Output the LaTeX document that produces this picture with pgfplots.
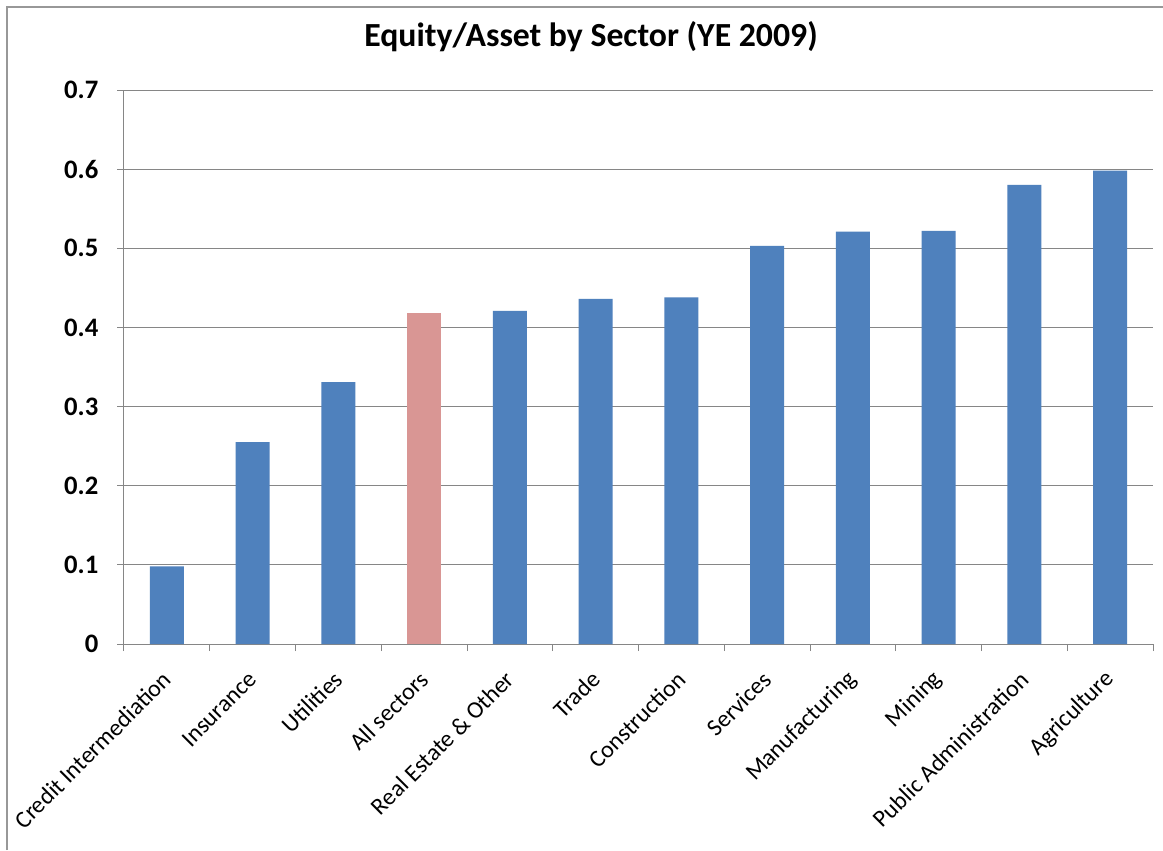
\documentclass[border=0pt]{standalone}
\usepackage{pgfplots}
\pgfplotsset{compat=1.18}
\usepackage{fontspec}
\setmainfont{Carlito}
\definecolor{barblue}{HTML}{4F81BD}
\definecolor{barpink}{HTML}{D99694}
\definecolor{gridgray}{HTML}{868686}

\begin{document}
\begin{tikzpicture}[x=1pt,y=1pt]
\useasboundingbox (-93,-154.5) rectangle (779.25,483);
\fill[white] (-93,-154.5) rectangle (779.25,483);
\draw[gridgray!85, line width=1.5pt] (-87.75,-154.5) -- (-87.75,477.75) -- (779.25,477.75);
\node[font=\fontsize{25.3}{28}\selectfont\bfseries] at (350.25,455.25) {Equity/Asset by Sector (YE 2009)};
\begin{axis}[
  at={(0,0)}, anchor=south west, scale only axis,
  width=771.75pt, height=415.5pt,
  xmin=-0.5, xmax=11.5, ymin=0, ymax=0.7,
  separate axis lines,
  axis x line*=bottom, axis y line*=left,
  axis line style={gridgray, line width=0.75pt, -},
  every outer x axis line/.append style={-},
  every outer y axis line/.append style={-},
  ybar, bar width=25.5pt, bar shift=0pt,
  xtick={0,1,2,3,4,5,6,7,8,9,10,11},
  xticklabels={Credit Intermediation, Insurance, Utilities, All sectors, Real Estate \& Other, Trade, Construction, Services, Manufacturing, Mining, Public Administration, Agriculture},
  major x tick style={draw=none},
  minor xtick={-0.5,0.5,1.5,2.5,3.5,4.5,5.5,6.5,7.5,8.5,9.5,10.5,11.5},
  tick align=outside,
  major tick length=5.25pt, minor tick length=5.25pt,
  tick style={gridgray, line width=0.75pt},
  xticklabel style={xshift=2.5pt, yshift=-16pt, rotate=45, anchor=east, font=\fontsize{18}{20}\selectfont},
  ytick={0,0.1,0.2,0.3,0.4,0.5,0.6,0.7},
  yticklabels={0,0.1,0.2,0.3,0.4,0.5,0.6,0.7},
  yticklabel style={xshift=-10.5pt, font=\fontsize{20}{22}\selectfont\bfseries},
  ymajorgrids,
  major grid style={gridgray, line width=0.75pt},
  clip=false,
]
\addplot[fill=barblue, draw=none] coordinates {
(0,0.098) (1,0.255) (2,0.331) (4,0.421) (5,0.436) (6,0.438) (7,0.503) (8,0.521) (9,0.522) (10,0.580) (11,0.598)};
\addplot[fill=barpink, draw=none] coordinates {(3,0.418)};
\end{axis}
\end{tikzpicture}
\end{document}
